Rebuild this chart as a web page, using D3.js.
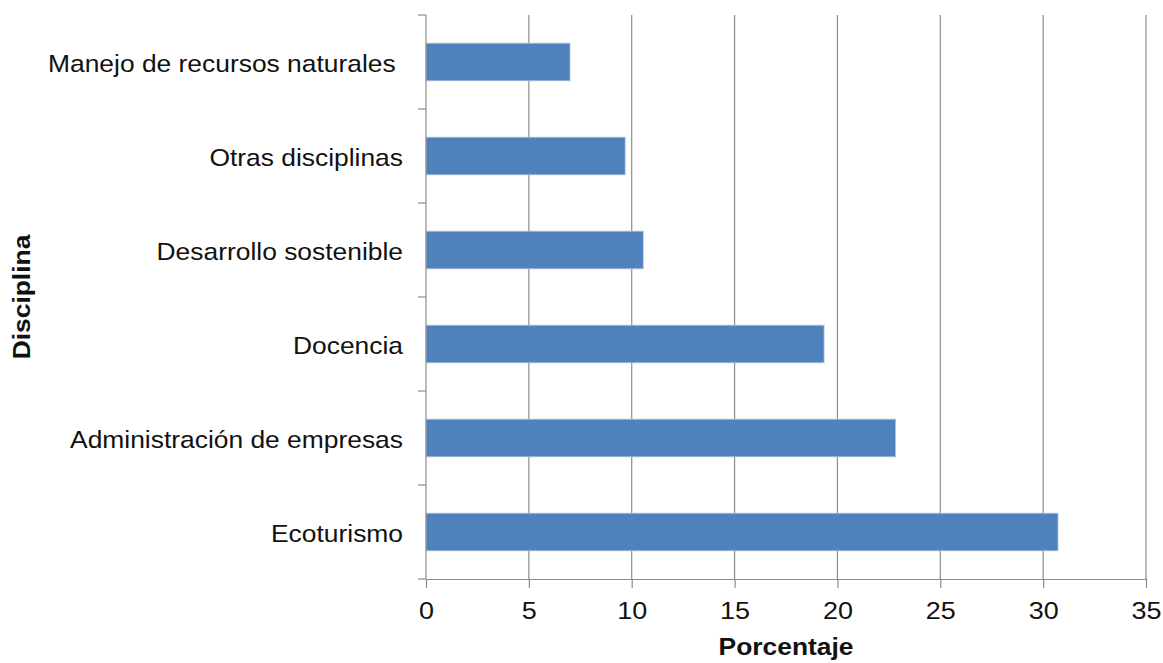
<!DOCTYPE html>
<html>
<head>
<meta charset="utf-8">
<script src="https://d3js.org/d3.v7.min.js"></script>
<style>
body { margin: 0; background: #fff; }
svg { font-family: "Liberation Sans", Arial, Helvetica, sans-serif; }
</style>
</head>
<body>
<script>
// data (the first label has a trailing space in the original)
var categories = ['Manejo de recursos naturales\u00a0', 'Otras disciplinas', 'Desarrollo sostenible', 'Docencia', 'Administración de empresas', 'Ecoturismo'];
var values = [7.0, 9.68, 10.56, 19.35, 22.82, 30.72];
var xTicks = [0, 5, 10, 15, 20, 25, 30, 35];

var width = 1163, height = 663;
var margin = {top: 15, right: 17, bottom: 84, left: 426};
var w = width - margin.left - margin.right;
var h = height - margin.top - margin.bottom;
var stretch = 1.1; // the picture's text is a bit wide

var svg = d3.select('body').append('svg').attr('width', width).attr('height', height);
var origin = svg.append('g').attr('transform', 'translate(' + margin.left + ',' + margin.top + ')');

var x = d3.scaleLinear().domain([0, 35]).range([0, w]);
var y = d3.scaleBand().domain(categories).range([0, h]).paddingInner(0.6).paddingOuter(0.3);

var gray = '#8c8c8c';

//vertical grid lines
origin.append('g').selectAll('line').data(xTicks.slice(1)).join('line')
	.attr('x1', function(d) { return x(d); }).attr('x2', function(d) { return x(d); })
	.attr('y1', 0).attr('y2', h)
	.attr('stroke', gray).attr('stroke-width', 1.2);

//bars
origin.append('g').selectAll('rect').data(values).join('rect')
	.attr('x', x(0))
	.attr('y', function(d, i) { return y(categories[i]); })
	.attr('width', function(d) { return x(d) - x(0); })
	.attr('height', y.bandwidth())
	.attr('fill', '#4f81bd').attr('stroke', '#a9c1e1').attr('stroke-width', 0.8);

//x axis
var xAxis = d3.axisBottom(x).tickValues(xTicks).tickSize(9).tickPadding(14).tickSizeOuter(0);
var gx = origin.append('g').attr('transform', 'translate(0,' + h + ')').call(xAxis);
gx.select('.domain').attr('stroke', gray).attr('stroke-width', 1.2);
gx.selectAll('.tick line').attr('stroke', gray).attr('stroke-width', 1.2);
gx.selectAll('.tick text').attr('font-size', 24.5).attr('fill', '#111')
	.attr('font-family', '"Liberation Sans", Arial, sans-serif')
	.attr('transform', 'scale(' + stretch + ',1)');

//y axis: ticks sit between the categories
var gy = origin.append('g');
gy.append('line').attr('x1', 0).attr('x2', 0).attr('y1', 0).attr('y2', h).attr('stroke', gray).attr('stroke-width', 1.2);
var bounds = d3.range(categories.length + 1).map(function(i) { return i * h / categories.length; });
gy.selectAll('line.tk').data(bounds).join('line').attr('class', 'tk')
	.attr('x1', -8).attr('x2', 0)
	.attr('y1', function(d) { return d; }).attr('y2', function(d) { return d; })
	.attr('stroke', gray).attr('stroke-width', 1.2);
gy.selectAll('text').data(categories).join('text')
	.attr('transform', function(d) { return 'translate(-23,' + (y(d) + y.bandwidth() / 2) + ') scale(' + stretch + ',1)'; })
	.attr('dy', '0.42em')
	.attr('text-anchor', 'end')
	.attr('font-size', 24).attr('fill', '#111')
	.text(function(d) { return d; });

//axis titles
svg.append('text')
	.attr('transform', 'translate(' + (margin.left + w / 2) + ',655) scale(' + stretch + ',1)')
	.attr('text-anchor', 'middle').attr('font-size', 24).attr('font-weight', 'bold').attr('fill', '#111')
	.text('Porcentaje');
svg.append('text')
	.attr('transform', 'translate(30,' + (margin.top + h / 2) + ') rotate(-90) scale(' + stretch + ',1)')
	.attr('text-anchor', 'middle').attr('font-size', 24).attr('font-weight', 'bold').attr('fill', '#111')
	.text('Disciplina');
</script>
</body>
</html>
